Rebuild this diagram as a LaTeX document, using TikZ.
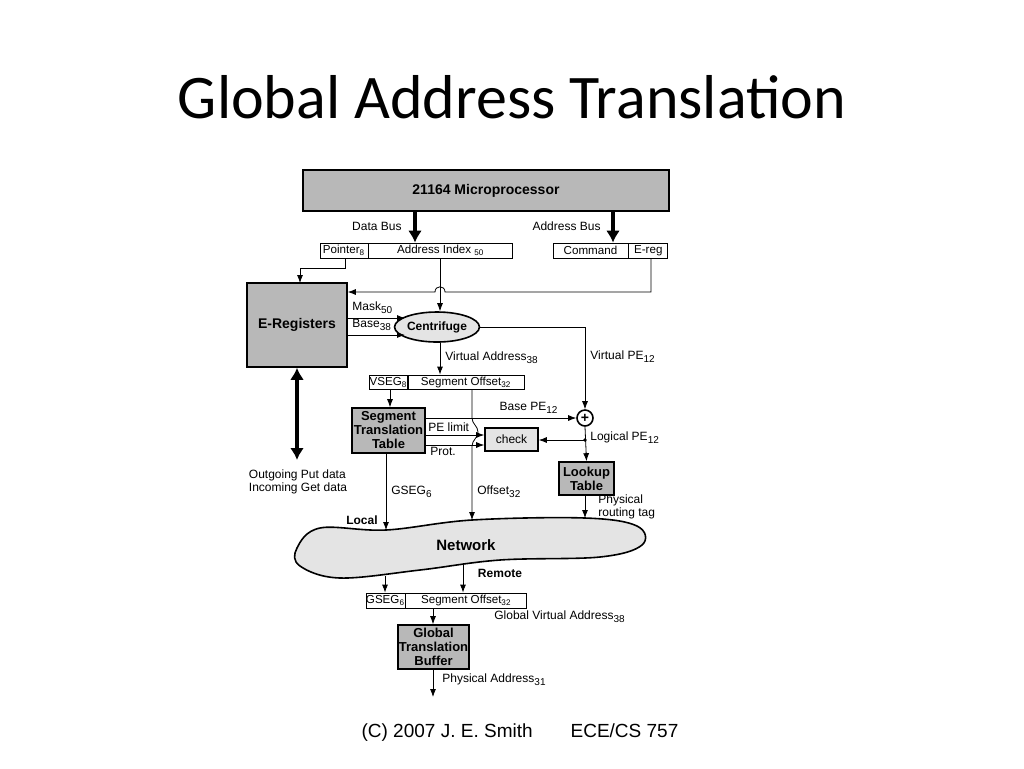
\documentclass[tikz,border=0pt]{standalone}
\usepackage{fontspec}
\setmainfont{Liberation Sans}
\newfontfamily\titlefont{Carlito}
\usetikzlibrary{shapes.geometric}
\usetikzlibrary{arrows.meta}
\definecolor{boxgray}{HTML}{B8B8B8}
\definecolor{netgray}{HTML}{E4E4E4}
\newcommand{\sub}[1]{\textsubscript{#1}}
\tikzset{
  box/.style={draw, thick, fill=boxgray, inner sep=0pt, font=\fontsize{6.5}{7}\selectfont\bfseries, align=center},
  field/.style={draw, inner sep=0pt, font=\fontsize{5.8}{6}\selectfont},
  lbl/.style={font=\fontsize{6}{6.6}\selectfont, inner sep=1pt},
  blbl/.style={font=\fontsize{6}{7}\selectfont\bfseries, inner sep=1pt},
  bus/.style={line width=2.2pt, -{Latex[length=6pt,width=7pt]}},
  flow/.style={thin, -{Latex[length=4pt,width=3pt]}}
}
\begin{document}
\begin{tikzpicture}[x=0.5pt,y=-0.5pt]
\useasboundingbox (0,0) rectangle (1024,768);
\node at (512,97) {\titlefont\fontsize{31}{34}\selectfont Global Address Translation};
\node at (520,733) {\fontsize{9.5}{10}\selectfont (C) 2007 J. E. Smith\qquad ECE/CS 757};
% processor and buses
\node[box, minimum width=183pt, minimum height=20.5pt] (cpu) at (486,190.5) {\fontsize{7}{8}\selectfont 21164 Microprocessor};
\node[field, minimum width=24pt, minimum height=7.5pt] (ptr) at (344,250.5) {Pointer\sub{8}};
\node[field, minimum width=72pt, minimum height=7.5pt, anchor=west] (aidx) at (ptr.east) {Address Index \sub{50}};
\node[field, minimum width=37.5pt, minimum height=7.5pt] (cmd) at (590.5,250.5) {Command};
\node[field, minimum width=19.5pt, minimum height=7.5pt, anchor=west] (ereg) at (cmd.east) {E-reg};
\draw[bus] (cpu.south -| 415,0) -- (aidx.north -| 415,0);
\draw[bus] (cpu.south -| 613,0) -- (cmd.north -| 613,0);
\node[lbl, anchor=east] at (404,226) {Data Bus};
\node[lbl, anchor=east] at (603,226) {Address Bus};
% e-registers and centrifuge
\node[box, minimum width=50pt, minimum height=42pt] (ereglist) at (297,325) {\fontsize{7}{8}\selectfont E-Registers};
\node[draw, thick, ellipse, fill=netgray, minimum width=40pt, minimum height=15pt, inner sep=0pt, font=\fontsize{6}{7}\selectfont\bfseries] (cent) at (437,327) {Centrifuge};
\draw[flow] (ptr.south -| 345,0) -- (345,268) -- (300,268) -- (300,283);
\draw[flow] (ereg.south -| 651,0) -- (651,292) -- (445,292) .. controls (445,285) and (435,285) .. (435,292) -- (ereglist.east |- 0,292);
\draw[flow] (aidx.south -| 440,0) -- (cent.north -| 440,0);
\draw[flow] (ereglist.east |- 0,318) -- (405,318);
\draw[flow] (ereglist.east |- 0,335) -- (405,335);
\node[lbl, anchor=south west] at (350,316) {Mask\sub{50}};
\node[lbl, anchor=south west] at (350,333) {Base\sub{38}};
\draw[line width=2.2pt, {Latex[length=6pt,width=7pt]}-{Latex[length=6pt,width=7pt]}] (ereglist.south -| 297,0) -- (297,460);
\node[lbl, align=left] at (298,482) {Outgoing Put data\\Incoming Get data};
% address split
\node[field, minimum width=17.5pt, minimum height=7pt] (vseg) at (388.5,382) {VSEG\sub{8}};
\node[field, minimum width=58pt, minimum height=7pt, anchor=west] (soff) at (vseg.east) {Segment Offset\sub{32}};
\draw[flow] (cent.south -| 440,0) -- (soff.north -| 440,0);
\node[lbl, anchor=west] at (443,358) {Virtual Address\sub{38}};
\node[draw, thick, circle, inner sep=0pt, minimum size=8pt, font=\fontsize{7}{7}\selectfont\bfseries] (plus) at (585,418) {+};
\draw[flow] (cent.east) -- (585,327) -- (plus.north);
\node[lbl, anchor=west] at (588,357) {Virtual PE\sub{12}};
% segment translation
\node[box, minimum width=36.5pt, minimum height=22.5pt] (stt) at (388.5,430.5) {Segment\\Translation\\Table};
\node[box, fill=netgray, minimum width=26.5pt, minimum height=11.5pt, font=\fontsize{6}{7}\selectfont] (chk) at (511.5,439.5) {check};
\draw[flow] (vseg.south -| 390,0) -- (stt.north -| 390,0);
\draw[flow] (stt.east |- 0,418) -- (plus.west);
\node[lbl, anchor=south] at (529,416) {Base PE\sub{12}};
\draw[flow] (stt.east |- 0,435) -- (chk.west |- 0,435);
\draw[flow] (stt.east |- 0,445) -- (chk.west |- 0,445);
\node[lbl, anchor=south west] at (426,434) {PE limit};
\node[lbl, anchor=north west] at (428,445) {Prot.};
\node[box, minimum width=27.5pt, minimum height=16.5pt] (lut) at (586.5,478.5) {Lookup\\Table};
\draw[flow] (plus.south) -- (lut.north);
\fill (585,440) circle (1.8);
\draw[flow] (585,440) -- (chk.east |- 0,440);
\node[lbl, anchor=west] at (588,438) {Logical PE\sub{12}};
% network
\coordinate (local) at (386,530);
\coordinate (offin) at (472,520);
\coordinate (tagin) at (585,518);
\draw[thick, fill=netgray] plot[smooth cycle, tension=0.6] coordinates {(297,548) (320,528) (386,530) (472,520) (585,518) (637,526) (642,545) (600,557) (500,560) (420,570) (340,578) (300,566)};
\node[font=\fontsize{7.5}{8}\selectfont\bfseries] (net) at (466,545) {Network};
\draw[flow] (stt.south -| 386,0) -- (local);
\node[lbl, anchor=west] at (389,492) {GSEG\sub{6}};
\node[blbl] at (362,520) {Local};
\draw[flow] (soff.south -| 472,0) -- (472,418) to[out=-90,in=90] (478,432) to[out=-90,in=90] (472,446) -- (offin);
\node[lbl, anchor=west] at (475,492) {Offset\sub{32}};
\draw[flow] (lut.south -| 585,0) -- (tagin);
\node[lbl, anchor=west, align=left] at (596,507) {Physical\\routing tag};
% global translation
\node[field, minimum width=19.5pt, minimum height=7.5pt] (gseg) at (385.5,600.5) {GSEG\sub{6}};
\node[field, minimum width=60.5pt, minimum height=7.5pt, anchor=west] (goff) at (gseg.east) {Segment Offset\sub{32}};
\draw[flow] (385,576) -- (gseg.north -| 385,0);
\draw[flow] (463,563) -- (goff.north -| 463,0);
\node[blbl] at (500,573) {Remote};
\node[lbl, anchor=west] at (492,617) {Global Virtual Address\sub{38}};
\node[box, minimum width=35.5pt, minimum height=22pt] (gtb) at (433.5,647) {Global\\Translation\\Buffer};
\draw[flow] (gseg.south -| 433,0) -- (gtb.north -| 433,0);
\coordinate (paddr) at (433,697);
\draw[flow] (gtb.south -| 433,0) -- (paddr);
\node[lbl, anchor=west] at (440,680) {Physical Address\sub{31}};
\end{tikzpicture}
\end{document}
